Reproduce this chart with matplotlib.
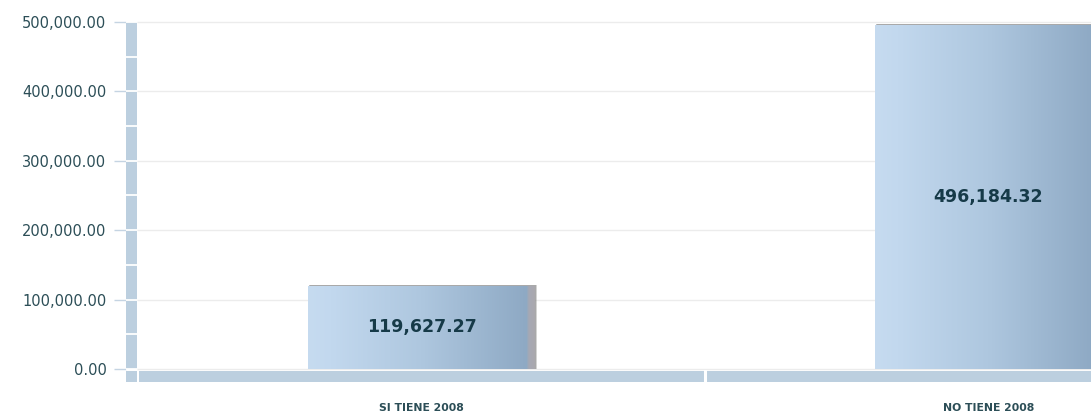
import numpy as np
import matplotlib
matplotlib.use("Agg")
import matplotlib.pyplot as plt
from matplotlib.colors import LinearSegmentedColormap
from matplotlib.patches import Rectangle
from matplotlib.ticker import FuncFormatter

categories = ["SI TIENE 2008", "NO TIENE 2008"]
values = [119627.27, 496184.32]
y_ticks = [0, 100000, 200000, 300000, 400000, 500000]

W, H = 1091, 415
fig = plt.figure(figsize=(W / 100, H / 100), dpi=100)
fig.patch.set_facecolor("white")

# axes box in pixels: left edge of the axis strip to the right border
px_left, px_right, px_top, px_bottom = 126, 1091, 20, 382
ax = fig.add_axes([px_left / W, (H - px_bottom) / H,
                   (px_right - px_left) / W, (px_bottom - px_top) / H])
ax.set_facecolor("white")

y_per_px = 500000 / 347.0
x_per_px = 1.0 / 567.0
ymin = -(px_bottom - 369) * y_per_px
ymax = 500000 + (369 - 347 - px_top) * y_per_px
xmin = -0.5 - 12 * x_per_px
xmax = xmin + (px_right - px_left) * x_per_px
ax.set_xlim(xmin, xmax)
ax.set_ylim(ymin, ymax)

strip = "#bccfdf"
strip_right = -0.5 - 1 * x_per_px

# horizontal grid lines
for t in y_ticks:
    ax.plot([strip_right, xmax], [t, t], color="#ececec", lw=1.0, zorder=1,
            solid_capstyle="butt")

# vertical axis strip, segmented every 50k
ax.add_patch(Rectangle((xmin, 0), strip_right - xmin, 500000,
                       facecolor=strip, edgecolor="none", zorder=2))
for t in np.arange(0, 500001, 50000):
    ax.plot([xmin, strip_right], [t, t], color="white", lw=1.3, zorder=3,
            solid_capstyle="butt")
# corner block and floor strip
floor_top = -1.5 * y_per_px
ax.add_patch(Rectangle((xmin, ymin), strip_right - xmin, floor_top - ymin,
                       facecolor=strip, edgecolor="none", zorder=2))
ax.add_patch(Rectangle((-0.5 + 0.5 * x_per_px, ymin), xmax + 0.5 - 0.5 * x_per_px,
                       floor_top - ymin, facecolor=strip, edgecolor="none", zorder=2))
# category separator on the floor
for b in np.arange(0.5, len(categories) - 0.5, 1.0):
    ax.plot([b, b], [ymin, floor_top], color="white", lw=2.2, zorder=3)

# gradient bars
cmap = LinearSegmentedColormap.from_list(
    "barfill",
    [(0.0, "#c6dbf0"), (0.1, "#c2d8ee"), (0.5, "#aec7df"),
     (0.965, "#8ea9c4"), (0.975, "#a6a9b4"), (1.0, "#aaa8ae")])
grad = np.linspace(0, 1, 256).reshape(1, -1)
bar_w = 0.4
xs = np.arange(len(categories))
for x, v in zip(xs, values):
    x0 = x - bar_w / 2
    # soft shadow
    ax.add_patch(Rectangle((x0 + 2 * x_per_px, 0), bar_w, v + 1 * y_per_px,
                           facecolor="#a0a0a0", edgecolor="none", alpha=0.45,
                           zorder=4))
    ax.add_patch(Rectangle((x0 + 1 * x_per_px, 0), bar_w, v + 0.5 * y_per_px,
                           facecolor="#808080", edgecolor="none", alpha=0.5,
                           zorder=4))
    rect = Rectangle((x0, 0), bar_w, v, facecolor="none", edgecolor="none",
                     zorder=5)
    ax.add_patch(rect)
    im = ax.imshow(grad, cmap=cmap, aspect="auto",
                   extent=[x0, x0 + bar_w, 0, v], zorder=5,
                   interpolation="bilinear")
    im.set_clip_path(rect)
    ax.text(x, v / 2, f"{v:,.2f}", ha="center", va="center",
            fontsize=12.5, fontweight="bold", color="#163a48", zorder=6)

# value axis ticks
ax.set_yticks(y_ticks)
ax.yaxis.set_major_formatter(FuncFormatter(lambda v, p: f"{v:,.2f}"))
ax.tick_params(axis="y", length=8.6, width=1.0, color="#c5d4e2", pad=5.5,
               labelsize=10.5, labelcolor="#2c4e57")

# category labels
ax.set_xticks(xs)
ax.set_xticklabels(categories, fontsize=7.8, fontweight="bold",
                   color="#2c4e57")
ax.tick_params(axis="x", length=0, pad=15)

for s in ax.spines.values():
    s.set_visible(False)

fig.savefig("out.png", dpi=100, facecolor="white")
